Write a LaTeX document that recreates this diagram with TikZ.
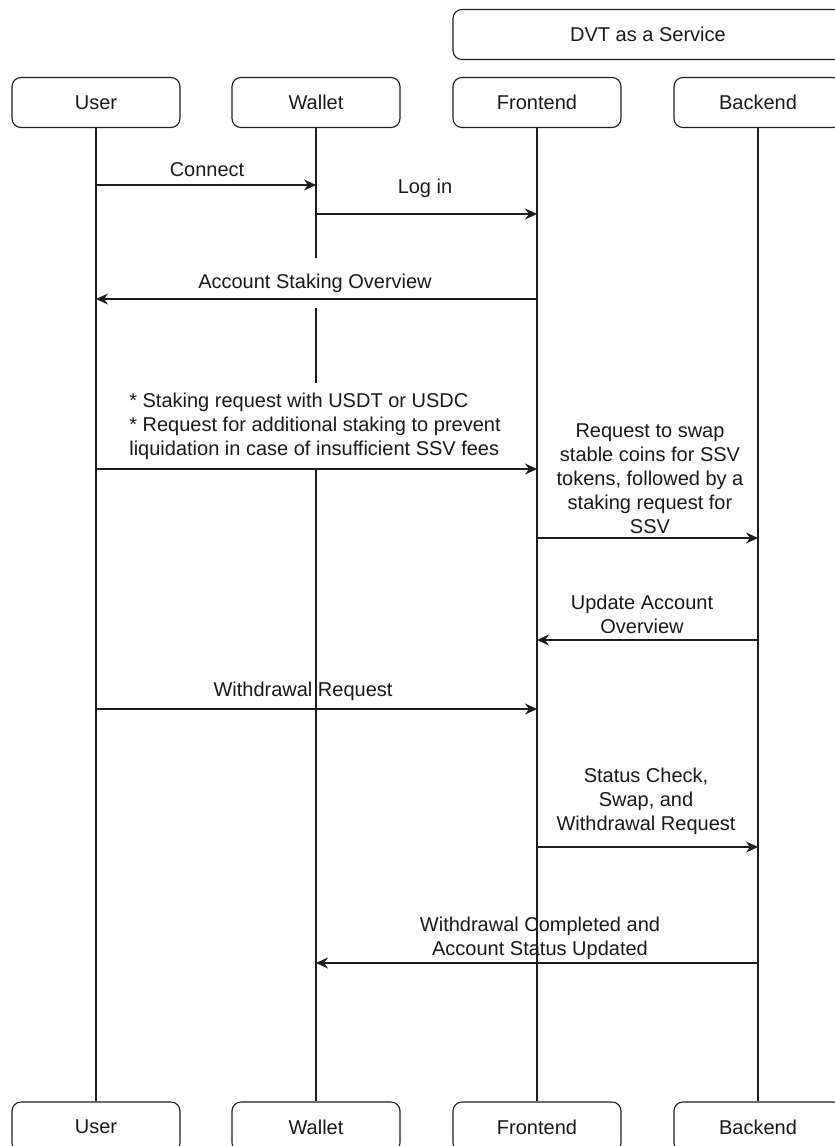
\documentclass[tikz,border=0pt]{standalone}
\usepackage{fontspec}
\setmainfont{Liberation Sans}
\usetikzlibrary{arrows.meta}
\definecolor{linec}{HTML}{1E1E1E}
\definecolor{textc}{HTML}{1A1A1A}
\begin{document}
\begin{tikzpicture}[x=1pt,y=-1pt,
  actor/.style={draw=linec, rounded corners=9pt, line width=1.1pt, minimum width=168pt, minimum height=50pt, inner sep=0pt, text=textc, font=\fontsize{20}{24}\selectfont},
  life/.style={draw=linec, line width=1.3pt},
  msg/.style={draw=linec, line width=1.3pt, -{Stealth[length=12pt,width=11pt,inset=4pt]}},
  lbl/.style={text=textc, font=\fontsize{20}{24}\selectfont, inner sep=0pt, align=center},
  lblbg/.style={lbl, fill=white}]
\useasboundingbox (0,0) rectangle (835,1146);
\clip (0,0) rectangle (835,1146);
\fill[white] (0,0) rectangle (835,1146);

% header
\node[actor, minimum width=390pt] (dvt) at (648,34.5) {DVT as a Service};

% top actors
\node[actor] (userT) at (96,102.5) {User};
\node[actor] (walletT) at (316,102.5) {Wallet};
\node[actor] (frontT) at (537,102.5) {Frontend};
\node[actor] (backT) at (758,102.5) {Backend};

% bottom actors
\node[actor] (userB) at (96,1127) {User};
\node[actor] (walletB) at (316,1127) {Wallet};
\node[actor] (frontB) at (537,1127) {Frontend};
\node[actor] (backB) at (758,1127) {Backend};

% lifelines
\draw[life] (userT.south) -- (userB.north);
\draw[life] (walletT.south) -- (walletB.north);
\draw[life] (frontT.south) -- (frontB.north);
\draw[life] (backT.south) -- (backB.north);

% labels
\node[lbl] (l1) at (207,170) {Connect};
\node[lbl] (l2) at (425,188) {Log in};
\node[lblbg, minimum height=50pt, inner xsep=2pt] (l3) at (315,283) {Account Staking Overview};
\node[lblbg, align=left, minimum height=86pt, inner xsep=2pt] (l4) at (315,426) {* Staking request with USDT or USDC\\* Request for additional staking to prevent\\liquidation in case of insufficient SSV fees};
\node[lbl] (l5) at (650,479) {Request to swap\\stable coins for SSV\\tokens, followed by a\\staking request for\\SSV};
\node[lbl] (l6) at (642,614) {Update Account\\Overview};
\node[lbl] (l7) at (303,691) {Withdrawal Request};
\node[lbl] (l8) at (646,801) {Status Check,\\Swap, and\\Withdrawal Request};
\node[lbl] (l9) at (540,938) {Withdrawal Completed and\\Account Status Updated};

% messages
\draw[msg] (userT.south |- 0,185) -- (walletT.south |- 0,185);
\draw[msg] (walletT.south |- 0,214) -- (frontT.south |- 0,214);
\draw[msg] (frontT.south |- 0,299) -- (userT.south |- 0,299);
\draw[msg] (userT.south |- 0,469) -- (frontT.south |- 0,469);
\draw[msg] (frontT.south |- 0,538) -- (backT.south |- 0,538);
\draw[msg] (backT.south |- 0,640) -- (frontT.south |- 0,640);
\draw[msg] (userT.south |- 0,709) -- (frontT.south |- 0,709);
\draw[msg] (frontT.south |- 0,847) -- (backT.south |- 0,847);
\draw[msg] (backT.south |- 0,963) -- (walletT.south |- 0,963);
\end{tikzpicture}
\end{document}
